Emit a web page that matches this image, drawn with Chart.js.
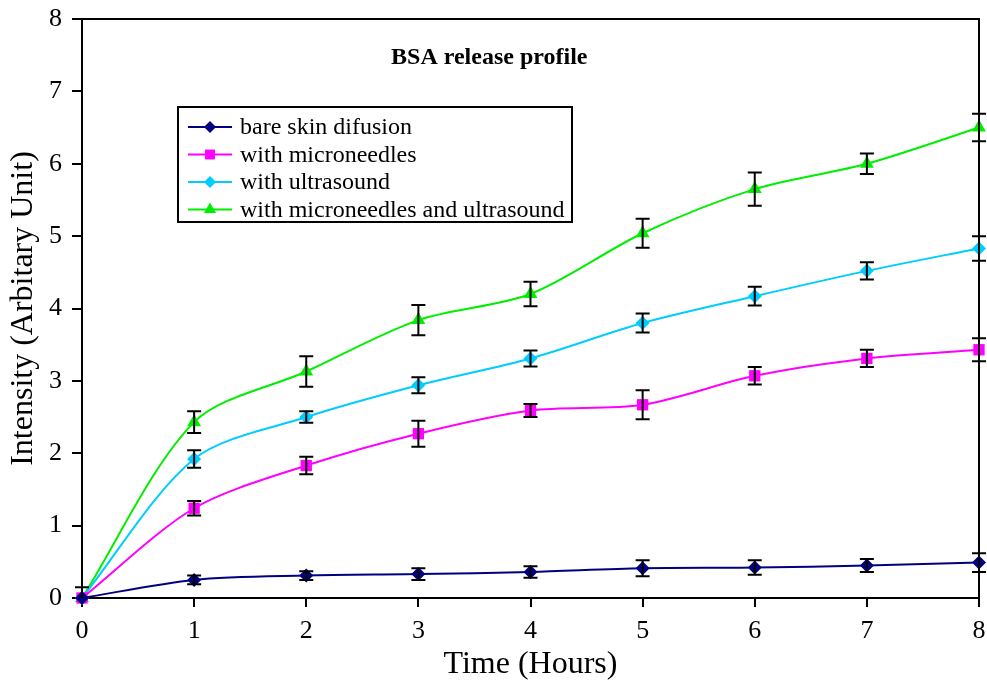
<!DOCTYPE html>
<html>
<head>
<meta charset="utf-8">
<script src="https://cdn.jsdelivr.net/npm/chart.js@4.4.1/dist/chart.umd.min.js"></script>
<style>
  html, body { margin: 0; padding: 0; background: #ffffff; }
  #wrap { width: 987px; height: 684px; }
</style>
</head>
<body>
<div id="wrap"><canvas id="c" width="987" height="684"></canvas></div>
<script>
// ---- data ----
const hours = [0, 1, 2, 3, 4, 5, 6, 7, 8];
const seriesNames = [
  "bare skin difusion",
  "with microneedles",
  "with ultrasound",
  "with microneedles and ultrasound"
];
const bareSkin = [0, 0.25, 0.31, 0.33, 0.36, 0.41, 0.42, 0.45, 0.49];
const bareSkinErr = [0.15, 0.06, 0.06, 0.08, 0.08, 0.11, 0.10, 0.09, 0.13];
const microneedles = [0, 1.24, 1.83, 2.27, 2.59, 2.67, 3.07, 3.31, 3.43];
const microneedlesErr = [0, 0.10, 0.12, 0.18, 0.09, 0.20, 0.12, 0.12, 0.16];
const ultrasound = [0, 1.92, 2.50, 2.94, 3.31, 3.80, 4.17, 4.52, 4.83];
const ultrasoundErr = [0, 0.12, 0.08, 0.11, 0.11, 0.13, 0.13, 0.12, 0.17];
const combined = [0, 2.43, 3.13, 3.84, 4.20, 5.04, 5.65, 6.00, 6.50];
const combinedErr = [0, 0.15, 0.21, 0.21, 0.17, 0.20, 0.23, 0.14, 0.19];
const yTicks = [0, 1, 2, 3, 4, 5, 6, 7, 8];
const chartTitle = "BSA release profile";
const xTitle = "Time (Hours)";
const yTitle = "Intensity (Arbitary Unit)";

const SERIF = "'Liberation Serif', 'DejaVu Serif', serif";

const styles = [
  { color: "#000080", pointStyle: "rectRot", radius: 7 },
  { color: "#ff00ff", pointStyle: "rect", radius: 8 },
  { color: "#00ccff", pointStyle: "rectRot", radius: 7 },
  { color: "#00ee00", pointStyle: "triangle", radius: 8 }
];
const values = [bareSkin, microneedles, ultrasound, combined];
const errors = [bareSkinErr, microneedlesErr, ultrasoundErr, combinedErr];

const datasets = values.map((vals, i) => ({
  label: seriesNames[i],
  data: hours.map((h, k) => ({ x: h, y: vals[k] })),
  errors: errors[i],
  borderColor: styles[i].color,
  backgroundColor: styles[i].color,
  pointBackgroundColor: styles[i].color,
  pointBorderColor: styles[i].color,
  pointStyle: styles[i].pointStyle,
  pointRadius: styles[i].radius,
  pointBorderWidth: 0,
  borderWidth: 2,
  tension: 0.3,
  clip: false,
  fill: false
}));

const decorPlugin = {
  id: "decor",
  afterDatasetsDraw(chart) {
    const ctx = chart.ctx;
    const xs = chart.scales.x, ys = chart.scales.y;
    const ca = chart.chartArea;
    ctx.save();
    // error bars
    ctx.strokeStyle = "#000000";
    ctx.lineWidth = 2;
    chart.data.datasets.forEach(ds => {
      ds.data.forEach((p, k) => {
        const e = ds.errors[k];
        if (!e) return;
        const px = xs.getPixelForValue(p.x);
        const yTop = ys.getPixelForValue(p.y + e);
        const lowVal = p.y - e;
        const yBot = ys.getPixelForValue(Math.max(lowVal, ys.min));
        ctx.beginPath();
        ctx.moveTo(px, yTop); ctx.lineTo(px, yBot);
        ctx.moveTo(px - 7, yTop); ctx.lineTo(px + 7, yTop);
        if (lowVal >= ys.min) { ctx.moveTo(px - 7, yBot); ctx.lineTo(px + 7, yBot); }
        ctx.stroke();
      });
    });
    // top and right frame
    ctx.lineWidth = 2;
    ctx.beginPath();
    ctx.moveTo(ca.left, ca.top);
    ctx.lineTo(ca.right, ca.top);
    ctx.lineTo(ca.right, ca.bottom);
    ctx.stroke();
    // title inside plot
    ctx.fillStyle = "#000000";
    ctx.font = "bold 24px " + SERIF;
    ctx.textAlign = "center";
    ctx.textBaseline = "middle";
    ctx.fillText(chartTitle, ca.left + (ca.right - ca.left) * 0.454, ca.top + 39);
    // legend box inside plot
    const lx = ca.left + 96, ly = ca.top + 88, lw = 394, lh = 115;
    ctx.fillStyle = "#ffffff";
    ctx.fillRect(lx, ly, lw, lh);
    ctx.lineWidth = 2;
    ctx.strokeStyle = "#000000";
    ctx.strokeRect(lx, ly, lw, lh);
    ctx.font = "24px " + SERIF;
    ctx.textAlign = "left";
    chart.data.datasets.forEach((ds, i) => {
      const yy = ly + 20 + i * 27.5;
      ctx.strokeStyle = ds.borderColor;
      ctx.lineWidth = 2;
      ctx.beginPath();
      ctx.moveTo(lx + 10, yy); ctx.lineTo(lx + 54, yy);
      ctx.stroke();
      ctx.fillStyle = ds.backgroundColor;
      Chart.helpers.drawPoint(ctx, {
        pointStyle: ds.pointStyle, radius: ds.pointRadius - 1, rotation: 0, borderWidth: 0
      }, lx + 32, yy);
      ctx.fillStyle = "#000000";
      ctx.fillText(ds.label, lx + 62, yy + 1);
    });
    ctx.restore();
  }
};

new Chart(document.getElementById("c"), {
  type: "line",
  data: { datasets },
  options: {
    responsive: false,
    animation: false,
    devicePixelRatio: 1,
    layout: { padding: { left: 0, right: 8, top: 19, bottom: 0 } },
    plugins: { legend: { display: false }, title: { display: false }, tooltip: { enabled: false } },
    scales: {
      x: {
        type: "linear",
        min: 0, max: 8,
        afterFit: s => { s.height = 86; s.paddingLeft = 0; s.paddingRight = 0; },
        ticks: { stepSize: 1, color: "#000", padding: 9, font: { family: SERIF, size: 26 } },
        grid: { display: true, drawOnChartArea: false, drawTicks: true, tickLength: 9, color: "#000", lineWidth: 2 },
        border: { display: true, color: "#000", width: 2 },
        title: { display: true, text: xTitle, color: "#000", font: { family: SERIF, size: 32 }, padding: { top: 0, bottom: 0 } }
      },
      y: {
        type: "linear",
        min: 0, max: 8,
        afterFit: s => { s.width = 82; s.paddingTop = 0; s.paddingBottom = 0; },
        afterBuildTicks: s => { s.ticks = yTicks.map(v => ({ value: v })); },
        ticks: { color: "#000", padding: 10, font: { family: SERIF, size: 26 } },
        grid: { display: true, drawOnChartArea: false, drawTicks: true, tickLength: 10, color: "#000", lineWidth: 2 },
        border: { display: true, color: "#000", width: 2 },
        title: { display: true, text: yTitle, color: "#000", font: { family: SERIF, size: 32 }, padding: { top: 4, bottom: 0 } }
      }
    }
  },
  plugins: [decorPlugin]
});
</script>
</body>
</html>
